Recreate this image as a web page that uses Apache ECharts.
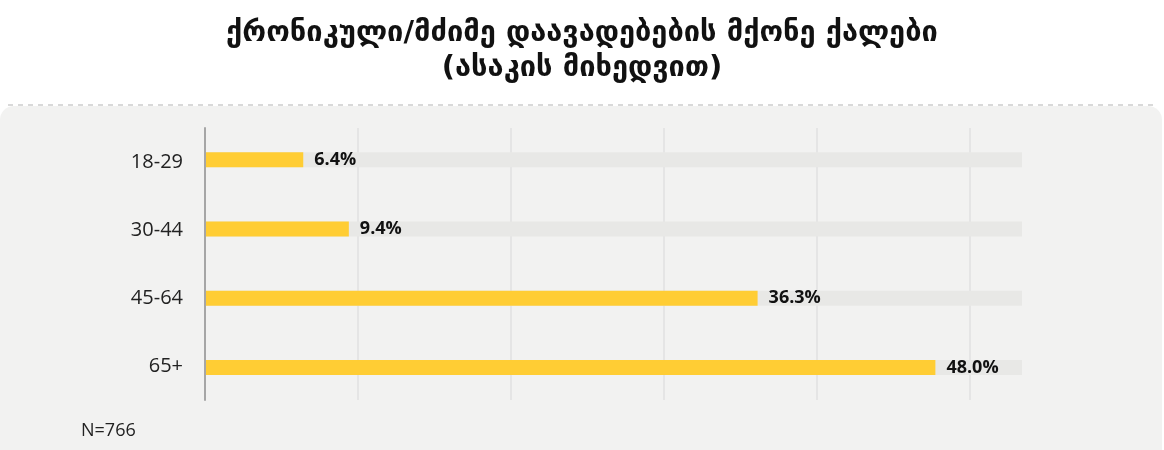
<!DOCTYPE html>
<html><head><meta charset="utf-8">
<script src="https://cdn.jsdelivr.net/npm/echarts@6/dist/echarts.min.js"></script>
<style>html,body{margin:0;padding:0;background:#fff}#c{width:1164px;height:450px}</style>
</head><body><div id="c"></div>
<script>
const titleLines = ['ქრონიკული/მძიმე დაავადებების მქონე ქალები', '(ასაკის მიხედვით)'];
const categories = ['18-29', '30-44', '45-64', '65+'];
const values = [6.4, 9.4, 36.3, 48.0];
const note = 'N=766';
const axisMax = 53.7;
const gridMax = 50;

const chart = echarts.init(document.getElementById('c'), null, {renderer: 'canvas'});
chart.setOption({
  backgroundColor: '#ffffff',
  animation: false,
  title: {
    text: titleLines.join('\n'),
    left: 'center', top: 11,
    textStyle: {fontFamily: 'DejaVu Sans', fontWeight: 'bold', fontSize: 29, lineHeight: 35, color: '#111'}
  },
  graphic: [
    {type: 'rect', z: -10, shape: {x: 0, y: 106, width: 1162, height: 360, r: 14}, style: {fill: '#F2F2F1'}},
    {type: 'line', z: -9, shape: {x1: 8, y1: 105, x2: 1157, y2: 105}, style: {stroke: '#CDCDCD', lineWidth: 1.5, lineDash: [5, 5]}},
    {type: 'text', left: 81, top: 422, style: {text: note, fontFamily: 'Open Sans', fontSize: 18, fill: '#222'}}
  ],
  grid: [
    {left: 206, right: 1164 - 1022, top: 125, height: 277},
    {left: 205, right: 1164 - 970, top: 128, height: 272}
  ],
  xAxis: [
    {type: 'value', gridIndex: 0, min: 0, max: axisMax, show: false, splitLine: {show: false}},
    {type: 'value', gridIndex: 1, min: 0, max: gridMax, interval: 10,
     axisLine: {show: false}, axisTick: {show: false}, axisLabel: {show: false},
     splitLine: {show: true, lineStyle: {color: '#E0E0E0', width: 1.5}}}
  ],
  yAxis: [
    {type: 'category', gridIndex: 0, data: categories, inverse: true, show: false},
    {type: 'category', gridIndex: 1, data: categories, inverse: true,
     axisLine: {show: true, lineStyle: {color: '#A6A6A6', width: 2}}, axisTick: {show: false},
     axisLabel: {margin: 22, fontFamily: 'Open Sans', fontSize: 20, color: '#222'}}
  ],
  series: [{
    type: 'bar', xAxisIndex: 0, yAxisIndex: 0, data: values, barWidth: 15, z: 5,
    itemStyle: {color: '#FFCD34'},
    showBackground: true, backgroundStyle: {color: '#E8E8E6'},
    label: {show: true, position: 'right', distance: 11, formatter: p => p.value.toFixed(1) + '%',
      fontFamily: 'Open Sans', fontWeight: 'bold', fontSize: 18, color: '#111'}
  }]
});
</script></body></html>
